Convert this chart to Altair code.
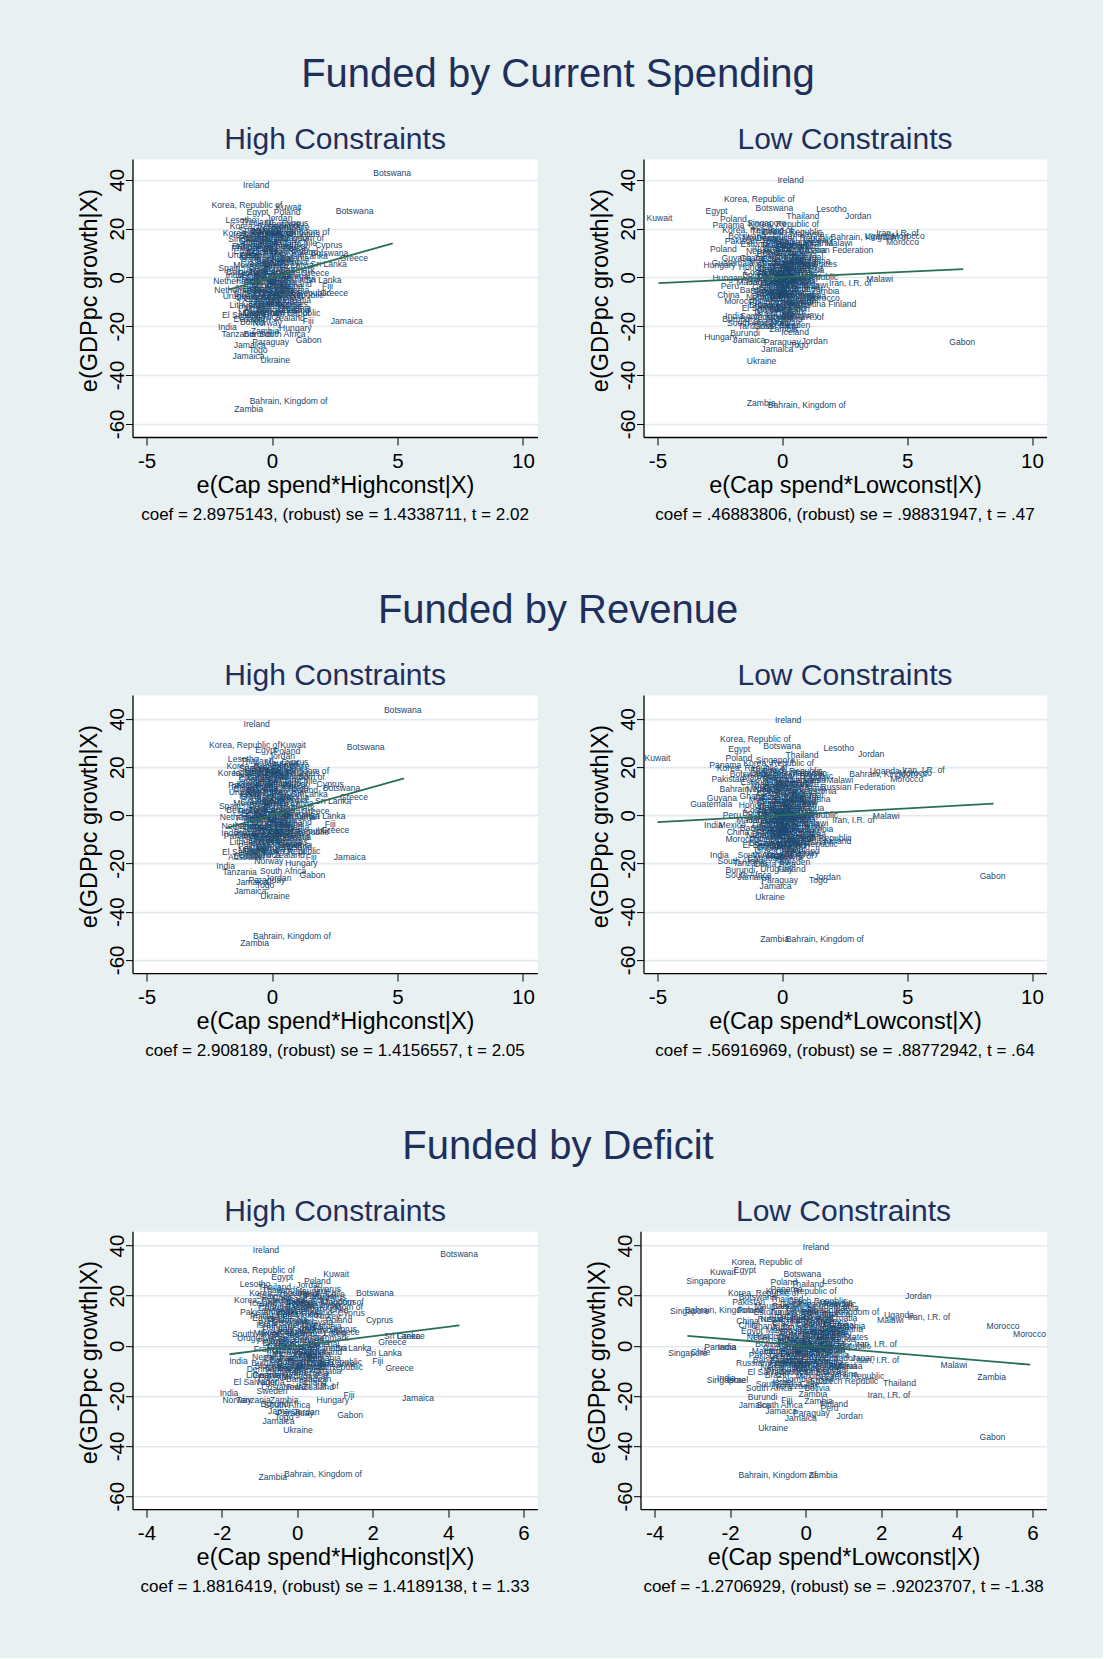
import altair as alt
import pandas as pd

FONT = "Liberation Sans"
BG = "#e8f0f2"
GRID = "#e2eaee"
NAVY = "#1a476f"
LINE_COLOR = "#2a6e5a"
TITLE_COLOR = "#1e2f5b"

ROW_TITLES = ["Funded by Current Spending", "Funded by Revenue", "Funded by Deficit"]
SUBTITLES = ["High Constraints", "Low Constraints"]
X_TITLES = ["e(Cap spend*Highconst|X)", "e(Cap spend*Lowconst|X)"]
Y_TITLE = "e(GDPpc growth|X)"
NOTES = [
    "coef = 2.8975143, (robust) se = 1.4338711, t = 2.02",
    "coef = .46883806, (robust) se = .98831947, t = .47",
    "coef = 2.908189, (robust) se = 1.4156557, t = 2.05",
    "coef = .56916969, (robust) se = .88772942, t = .64",
    "coef = 1.8816419, (robust) se = 1.4189138, t = 1.33",
    "coef = -1.2706929, (robust) se = .92023707, t = -1.38",
]
X_TICKS_AB = [-5, 0, 5, 10]
X_TICKS_C = [-4, -2, 0, 2, 4, 6]
Y_TICKS = [-60, -40, -20, 0, 20, 40]
X_DOMAIN_AB = [-5.56, 10.58]
X_DOMAIN_C = [-4.37, 6.37]
Y_DOMAINS = [[-65.4, 48.5], [-65.5, 49.9], [-65.2, 45.7]]

# fitted lines (end points)
LINE1_X, LINE1_Y = [-1.74, 4.81], [-5.04, 13.94]
LINE2_X, LINE2_Y = [-4.96, 7.25], [-2.33, 3.40]
LINE3_X, LINE3_Y = [-1.82, 5.26], [-5.29, 15.30]
LINE4_X, LINE4_Y = [-5.00, 8.46], [-2.85, 4.81]
LINE5_X, LINE5_Y = [-1.80, 4.30], [-3.39, 8.09]
LINE6_X, LINE6_Y = [-3.13, 5.94], [3.98, -7.55]

# dense cloud of labels, high-constraint panels (rows 1-2)
HIGH_CLOUD_AB = [
    ("Thailand",-0.6,22.5),("Mauritius",0.4,21.8),("Cyprus",0.9,22.3),("Greece",-0.2,20.2),
    ("Portugal",0.6,19.8),("Spain",-0.9,19.6),("Chile",1.1,20.5),("Singapore",-0.4,17.8),
    ("Ireland",0.3,18.2),("Iceland",-1.0,17.4),("Mauritius",1.2,17.6),("Portugal",-0.7,16.1),
    ("Tunisia",0.1,15.8),("Malaysia",0.8,16.3),("Japan",-0.1,14.9),("Indonesia",-0.5,14.0),
    ("Thailand",0.5,13.6),("Chile",1.4,14.2),("Korea, Republic of",0.0,12.8),("Philippines",-0.8,11.9),
    ("Costa Rica",0.2,11.5),("Turkey",1.0,12.1),("Egypt",-1.1,11.0),("Colombia",-0.3,10.2),
    ("Malaysia",0.6,9.6),("Poland",1.3,10.4),("Peru",-0.9,9.0),("Argentina",0.0,8.1),
    ("Hungary",-0.6,7.4),("Estonia",0.9,7.8),("Sri Lanka",1.5,8.8),("Uruguay",-0.2,6.0),
    ("Norway",0.5,5.7),("Mexico",-1.0,5.2),("Latvia",1.2,5.0),("Brazil",-0.5,4.1),
    ("Ecuador",0.3,3.6),("Denmark",1.0,3.2),("Sweden",-0.1,2.6),("Finland",-0.8,1.8),
    ("Austria",0.6,1.4),("Honduras",0.0,0.9),("Belgium",-1.2,2.2),("Canada",-0.4,0.1),
    ("Israel",0.4,-0.4),("Panama",1.1,-0.8),("France",-0.9,-1.1),("Germany",-0.2,-2.0),
    ("Switzerland",0.7,-2.6),("Italy",-0.7,-3.1),("Kenya",0.2,-3.6),("Nepal",-1.0,-4.4),
    ("Paraguay",0.0,-4.8),("Romania",0.8,-5.0),("Bolivia",-0.5,-5.6),("Guatemala",0.3,-6.4),
    ("Bulgaria",-0.9,-6.9),("Slovak Republic",1.1,-6.6),("Senegal",-0.2,-7.6),("Morocco",0.5,-8.3),
    ("Ghana",-0.6,-8.9),("Nicaragua",0.1,-9.6),("Croatia",1.0,-9.2),("Cameroon",-0.4,-10.4),
    ("Venezuela",0.4,-10.9),("Lithuania",-1.0,-11.2),("Madagascar",0.2,-11.9),("Pakistan",-0.7,-12.6),
    ("Bangladesh",0.3,-13.2),("Slovenia",0.9,-12.4),("Guatemala",-0.3,-14.1),("Dominican Republic",0.4,-14.8),
    ("Nigeria",-0.8,-14.6),("Costa Rica",-0.5,-16.3),("New Zealand",0.3,-16.5),("Ecuador",-0.9,-17.0),
    ("Spain",0.2,7.0),("Peru",-0.3,12.5),("Chile",0.1,16.8),("Brazil",0.3,-1.2),
    ("Turkey",-0.6,-0.3),("Iran, I.R. of",0.5,10.8),("Mexico",0.1,4.6),("Kenya",-0.2,-9.0),
    ("Italy",0.6,-4.2),("Greece",-0.4,9.3),("Malawi",0.0,19.0),("Israel",-0.6,3.0),
    ("Peru",0.4,20.7),("Chile",-0.5,19.1),("Kenya",0.2,17.2),("Ghana",-0.8,15.0),
    ("Japan",0.5,14.6),("Spain",-0.3,13.5),("Mexico",0.3,12.2),("Brazil",-0.6,10.6),
    ("Turkey",0.1,9.8),("Israel",-0.9,8.2),("Nepal",0.4,7.6),("Italy",-0.3,6.6),
    ("Colombia",0.7,6.3),("Greece",-0.7,5.6),("Latvia",0.1,5.2),("Tunisia",-0.4,2.0),
    ("Canada",0.3,2.2),("Ecuador",-0.6,1.0),("Senegal",0.9,0.6),("Uruguay",0.0,-0.6),
    ("Portugal",-0.5,-1.7),("Croatia",0.4,-1.9),("Honduras",-0.1,-3.2),("Argentina",0.5,-3.4),
    ("Estonia",-0.6,-4.8),("Romania",0.2,-5.3),("Bolivia",-0.2,-6.5),("Nigeria",0.7,-7.2),
    ("Slovenia",-0.8,-8.1),("Malaysia",0.3,-8.0),("Sweden",-0.3,-10.8),("Philippines",0.6,-11.1),
    ("Chile",-0.5,-13.5),
]

# dense cloud of labels, low-constraint panels (rows 1-2)
LOW_CLOUD_AB = [
    ("Czech Republic",0.4,18.4),("Thailand",-0.6,18.8),("Malaysia",1.0,17.6),("Chile",0.0,16.9),
    ("Dominican Republic",0.5,16.2),("Mauritius",-0.9,16.0),("Tunisia",-0.3,15.0),("Philippines",0.7,14.6),
    ("Latvia",1.3,15.4),("Estonia",-1.1,13.8),("Peru",0.1,13.6),("Greece",0.9,12.9),
    ("Argentina",-0.5,12.2),("Slovenia",0.4,11.7),("Croatia",1.2,11.3),("Nepal",-1.0,10.8),
    ("Kenya",-0.1,10.4),("Turkey",0.7,10.0),("Brazil",-0.6,9.4),("Colombia",0.2,8.9),
    ("Portugal",1.0,8.4),("Ghana",-1.2,8.0),("Ecuador",-0.2,7.6),("Spain",0.5,7.2),
    ("Bulgaria",1.3,6.8),("Mexico",-0.8,6.4),("Israel",0.0,6.0),("Romania",0.7,5.6),
    ("Senegal",-0.4,5.2),("Italy",1.1,4.8),("Honduras",-1.0,4.2),("Japan",0.3,3.9),
    ("Uruguay",-0.3,3.3),("Nicaragua",0.9,2.9),("Costa Rica",-0.7,2.4),("Canada",0.1,2.0),
    ("Venezuela",0.6,1.4),("Bolivia",-1.1,1.0),("Sweden",-0.2,0.6),("Slovak Republic",1.0,0.2),
    ("Belgium",0.3,-0.2),("Cameroon",-0.6,-0.6),("Nigeria",0.0,-1.1),("Austria",0.8,-1.6),
    ("Madagascar",-0.9,-2.0),("Denmark",-0.2,-2.5),("Finland",0.5,-3.0),("Malawi",1.3,-3.3),
    ("Germany",-0.5,-3.9),("Latvia",0.2,-4.4),("Ecuador",1.0,-4.8),("Bangladesh",-0.8,-5.3),
    ("Paraguay",-0.1,-5.8),("Croatia",0.6,-6.2),("Portugal",-0.4,-6.9),("Switzerland",0.4,-7.3),
    ("Tunisia",1.2,-7.7),("Nepal",-1.0,-8.1),("Kenya",0.0,-8.6),("Senegal",0.8,-9.1),
    ("Philippines",-0.5,-9.9),("Ghana",0.3,-10.4),("Argentina",1.0,-11.0),("Brazil",-0.9,-11.5),
    ("Mexico",0.1,-12.0),("Peru",0.6,-12.5),("Colombia",-0.3,-13.2),("Spain",0.4,-13.8),
    ("Israel",-0.7,-14.4),("Chile",0.1,-15.0),("Uruguay",0.8,-15.5),("Venezuela",-0.4,-16.4),
    ("Bolivia",0.3,-17.2),("Canada",-0.8,-17.9),("Italy",0.0,-18.6),("Sweden",0.5,-19.4),
    ("Costa Rica",-0.3,-20.1),("Japan",0.2,9.8),("Honduras",0.4,4.5),("Greece",-0.2,11.5),
    ("Turkey",0.1,-3.4),("Romania",-0.3,1.3),("Malaysia",0.6,-0.9),("Estonia",0.3,6.5),
    ("Slovenia",-0.1,14.0),("Kenya",0.7,-10.0),("Belgium",-0.6,-7.6),("Denmark",0.4,12.8),
    ("Nigeria",0.9,7.5),("Cameroon",-0.2,-11.4),
    ("Peru",0.5,11.0),("Chile",-0.4,10.0),("Kenya",0.9,9.2),("Ghana",0.1,8.4),
    ("Japan",-0.7,7.8),("Spain",0.7,6.8),("Mexico",0.2,6.2),("Brazil",-0.5,5.8),
    ("Turkey",0.8,5.2),("Israel",-0.1,4.6),("Nepal",0.5,4.0),("Italy",-0.6,3.6),
    ("Colombia",0.4,3.0),("Greece",-0.2,2.4),("Latvia",0.7,2.0),("Tunisia",-0.5,1.6),
    ("Canada",0.3,1.0),("Ecuador",0.9,0.6),("Senegal",-0.4,0.2),("Uruguay",0.5,-0.4),
    ("Portugal",-0.1,-0.9),("Croatia",0.6,-1.5),("Honduras",-0.7,-1.9),("Argentina",0.2,-2.4),
    ("Estonia",-0.3,-3.0),("Romania",0.8,-3.6),("Bolivia",-0.2,-4.2),("Nigeria",0.5,-4.9),
    ("Slovenia",-0.6,-5.4),("Malaysia",0.2,-6.0),("Sweden",-0.3,-6.6),("Philippines",0.7,-7.1),
    ("Chile",0.0,-7.6),("Madagascar",0.4,-8.4),("Austria",-0.4,-8.9),("Peru",0.9,-9.5),
    ("Japan",-0.1,-10.2),("Ghana",0.6,-11.5),("Cameroon",0.3,-12.9),("Senegal",-0.5,-12.3),
    ("Turkey",0.2,-14.4),("Brazil",0.5,-16.0),("Mexico",-0.1,-16.8),("Costa Rica",0.4,13.3),
    ("Italy",-0.3,15.8),
]

# dense cloud of labels, high-constraint deficit panel
HIGH_CLOUD_C = [
    ("Thailand",-0.5,22.4),("Mauritius",0.4,21.8),("Cyprus",0.8,22.8),("Greece",-0.1,20.3),
    ("Portugal",0.6,19.9),("Spain",-0.8,19.7),("Chile",1.0,20.5),("Singapore",-0.3,17.9),
    ("Ireland",0.3,18.3),("Iceland",-0.9,17.2),("Mauritius",1.1,17.5),("Portugal",-0.6,16.0),
    ("Tunisia",0.1,15.7),("Malaysia",0.7,16.2),("Japan",-0.1,14.8),("Indonesia",-0.4,14.0),
    ("Thailand",0.5,13.5),("Chile",1.1,14.1),("Costa Rica",0.0,12.7),("Philippines",-0.7,11.8),
    ("Turkey",0.8,12.0),("Egypt",-0.9,11.0),("Colombia",-0.2,10.2),("Malaysia",0.5,9.6),
    ("Poland",1.1,10.3),("Peru",-0.8,9.0),("Argentina",0.0,8.1),("Hungary",-0.5,7.4),
    ("Estonia",0.8,7.8),("Uruguay",-0.2,6.0),("Norway",0.4,5.7),("Mexico",-0.8,5.2),
    ("Latvia",1.0,5.0),("Brazil",-0.4,4.1),("Ecuador",0.3,3.6),("Denmark",0.9,3.2),
    ("Sweden",-0.1,2.6),("Finland",-0.7,1.8),("Austria",0.5,1.4),("Honduras",0.0,0.9),
    ("Canada",-0.4,0.1),("Israel",0.3,-0.4),("Panama",0.9,-0.8),("France",-0.8,-1.1),
    ("Germany",-0.2,-2.0),("Switzerland",0.6,-2.6),("Italy",-0.6,-3.1),("Kenya",0.2,-3.6),
    ("Nepal",-0.9,-4.4),("Paraguay",0.0,-4.8),("Romania",0.7,-5.0),("Bolivia",-0.4,-5.6),
    ("Guatemala",0.3,-6.4),("Bulgaria",-0.8,-6.9),("Slovak Republic",0.9,-6.6),("Senegal",-0.2,-7.6),
    ("Morocco",0.4,-8.3),("Ghana",-0.5,-8.9),("Nicaragua",0.1,-9.6),("Croatia",0.8,-9.9),
    ("Cameroon",-0.3,-10.4),("Venezuela",0.3,-10.9),("Lithuania",-0.9,-11.8),("Madagascar",0.2,-11.9),
    ("Pakistan",-0.6,-12.6),("Bangladesh",0.3,-13.2),("Nigeria",-0.7,-14.6),("Costa Rica",-0.4,-16.3),
    ("New Zealand",0.3,-16.5),("Spain",0.2,7.0),("Peru",-0.3,12.5),("Chile",0.1,16.8),
    ("Brazil",0.3,-1.2),("Turkey",-0.5,-0.3),("Mexico",0.1,4.6),("Kenya",-0.2,-9.0),
    ("Italy",0.5,-4.2),("Greece",-0.3,9.3),("Israel",-0.5,3.0),
    ("Peru",0.3,20.7),("Chile",-0.4,19.1),("Kenya",0.2,17.2),("Ghana",-0.7,15.0),
    ("Japan",0.4,14.6),("Spain",-0.3,13.5),("Mexico",0.3,12.2),("Brazil",-0.5,10.6),
    ("Turkey",0.1,9.8),("Israel",-0.8,8.2),("Nepal",0.4,7.6),("Italy",-0.3,6.6),
    ("Colombia",0.6,6.3),("Greece",-0.6,5.6),("Latvia",0.1,5.2),("Tunisia",-0.4,2.0),
    ("Canada",0.3,2.2),("Ecuador",-0.5,1.0),("Senegal",0.7,0.6),("Uruguay",0.0,-0.6),
    ("Portugal",-0.4,-1.7),("Croatia",0.4,-1.9),("Honduras",-0.1,-3.2),("Argentina",0.4,-3.4),
    ("Estonia",-0.5,-4.8),("Romania",0.2,-5.3),("Bolivia",-0.2,-6.5),("Nigeria",0.6,-7.2),
    ("Slovenia",-0.7,-8.1),("Malaysia",0.3,-8.0),
]

# dense cloud of labels, low-constraint deficit panel
LOW_CLOUD_C = [
    ("Czech Republic",0.3,18.0),("Thailand",-0.5,18.5),("Malaysia",0.8,17.2),("Chile",-0.1,16.5),
    ("Mauritius",-0.9,15.8),("Tunisia",-0.2,14.7),("Philippines",0.6,14.3),("Latvia",1.1,15.0),
    ("Estonia",-1.0,13.6),("Peru",0.1,13.3),("Greece",0.8,12.6),("Argentina",-0.5,12.0),
    ("Slovenia",0.3,11.5),("Croatia",1.0,11.0),("Nepal",-0.9,10.6),("Kenya",-0.1,10.2),
    ("Turkey",0.6,9.8),("Brazil",-0.6,9.2),("Colombia",0.2,8.7),("Portugal",0.9,8.2),
    ("Ghana",-1.1,7.8),("Ecuador",-0.2,7.4),("Spain",0.5,7.0),("Bulgaria",1.1,6.6),
    ("Mexico",-0.7,6.2),("Israel",0.0,5.8),("Romania",0.6,5.4),("Senegal",-0.4,5.0),
    ("Italy",1.0,4.6),("Honduras",-0.9,4.0),("Japan",0.3,3.7),("Uruguay",-0.3,3.1),
    ("Nicaragua",0.8,2.7),("Costa Rica",-0.6,2.2),("Canada",0.1,1.8),("Venezuela",0.5,1.2),
    ("Bolivia",-1.0,0.8),("Sweden",-0.2,0.4),("Slovak Republic",0.9,0.0),("Belgium",0.3,-0.4),
    ("Cameroon",-0.6,-0.8),("Nigeria",0.0,-1.3),("Austria",0.7,-1.8),("Madagascar",-0.8,-2.2),
    ("Denmark",-0.2,-2.7),("Finland",0.5,-3.2),("Germany",-0.5,-4.1),("Latvia",0.2,-4.6),
    ("Ecuador",0.9,-5.0),("Bangladesh",-0.8,-5.5),("Paraguay",-0.1,-6.0),("Croatia",0.6,-6.4),
    ("Portugal",-0.4,-7.1),("Switzerland",0.4,-7.5),("Tunisia",1.0,-7.9),("Nepal",-0.9,-8.3),
    ("Kenya",0.0,-8.8),("Senegal",0.7,-9.3),("Philippines",-0.5,-10.1),("Ghana",0.3,-10.6),
    ("Argentina",0.9,-11.2),("Brazil",-0.8,-11.7),("Mexico",0.1,-12.2),("Peru",0.5,-12.7),
    ("Colombia",-0.3,-13.4),("Spain",0.4,-14.0),("Israel",-0.6,-14.6),("Chile",0.1,-15.2),
    ("Venezuela",-0.3,-16.2),("Bolivia",0.3,-17.0),("Japan",0.2,9.6),("Honduras",0.4,4.3),
    ("Greece",-0.2,11.3),("Turkey",0.1,-3.6),("Romania",-0.3,1.1),("Malaysia",0.6,-1.1),
    ("Estonia",0.3,6.3),("Slovenia",-0.1,13.8),("Kenya",0.6,-10.2),("Belgium",-0.6,-7.8),
    ("Denmark",0.4,12.6),("Nigeria",0.8,7.3),
    ("Peru",0.5,10.8),("Chile",-0.4,9.8),("Kenya",0.8,9.0),("Ghana",0.1,8.2),
    ("Japan",-0.6,7.6),("Spain",0.7,6.6),("Mexico",0.2,6.0),("Brazil",-0.4,5.6),
    ("Turkey",0.7,5.0),("Israel",-0.1,4.4),("Nepal",0.5,3.8),("Italy",-0.5,3.4),
    ("Colombia",0.4,2.8),("Greece",-0.2,2.2),("Latvia",0.6,1.8),("Tunisia",-0.4,1.4),
    ("Canada",0.3,0.8),("Ecuador",0.8,0.4),("Senegal",-0.3,0.0),("Uruguay",0.5,-0.6),
    ("Portugal",-0.1,-1.1),("Croatia",0.6,-1.7),("Honduras",-0.6,-2.1),("Argentina",0.2,-2.6),
    ("Estonia",-0.3,-3.2),("Romania",0.7,-3.8),("Bolivia",-0.2,-4.4),("Nigeria",0.5,-5.1),
    ("Slovenia",-0.5,-5.6),("Malaysia",0.2,-6.2),("Sweden",-0.3,-6.8),("Philippines",0.6,-7.3),
    ("Madagascar",0.3,-8.6),("Austria",-0.3,-9.1),("Japan",-0.1,-10.4),
]

# readable labels, panel by panel
P1_LABELS = [
    ("Botswana",4.79,42.7),("Ireland",-0.63,37.8),("Korea, Republic of",-1.0,29.6),("Kuwait",0.66,28.9),
    ("Egypt",-0.58,26.6),("Poland",0.6,26.6),("Botswana",3.29,27.1),("Lesotho",-1.24,23.5),
    ("Jordan",0.29,24.3),("Korea, Republic of",-0.28,21.1),("Korea, Republic of",-0.55,18.1),
    ("Bahrain, Kingdom of",0.74,18.7),("Bahrain, Kingdom of",0.52,16.0),("Cyprus",2.26,13.1),
    ("Botswana",2.29,10.0),("Greece",3.26,7.9),("Sri Lanka",2.26,5.5),("Greece",1.72,1.9),
    ("Sri Lanka",2.05,-1.1),("Fiji",2.21,-3.7),("Greece",2.47,-6.4),("Jamaica",2.98,-17.9),
    ("Fiji",1.44,-17.9),("India",-1.78,-20.3),("Tanzania",-1.33,-23.2),("Hungary",0.93,-20.7),
    ("South Africa",0.41,-23.2),("Gabon",1.46,-25.6),("Jamaica",-0.89,-27.7),("Paraguay",-0.05,-26.3),
    ("Togo",-0.55,-29.7),("Jamaica",-0.94,-32.2),("Ukraine",0.13,-33.7),("Bahrain, Kingdom of",0.66,-50.6),
    ("Zambia",-0.93,-53.9),("El Salvador",-1.12,-15.3),("Netherlands",-1.42,-1.4),("Netherlands",-1.38,-5.2),
    ("Spain",-1.7,3.8),("Uruguay",-1.13,9.3),("Pakistan",-0.94,13.0),("Singapore",-0.96,15.7),
    ("India",-1.48,1.1),("Uruguay",-1.32,-7.5),("Bolivia",-0.77,-18.4),("Norway",-0.19,-18.7),
    ("Burundi",-0.55,-23.3),("Zambia",-0.28,-22.0),("Finland",0.94,-13.2),("Iran, I.R. of",0.66,-14.7),
    ("Czech Republic",0.85,-7.2),
]
P2_LABELS = [
    ("Ireland",0.33,39.8),("Korea, Republic of",-0.92,32.1),("Botswana",-0.32,28.6),("Egypt",-2.64,27.1),
    ("Lesotho",1.97,28.0),("Thailand",0.82,25.1),("Jordan",3.04,25.1),("Kuwait",-4.92,24.3),
    ("Poland",-1.96,23.9),("Panama",-2.16,21.4),("Singapore",-0.63,22.2),("Korea, Republic of",0.05,21.8),
    ("Korea, Republic of",-0.99,19.4),("Botswana",-1.41,16.8),("Pakistan",-1.65,15.0),
    ("Bahrain, Kingdom of",3.49,16.5),("Iran, I.R. of",4.61,18.0),("Uganda",3.9,16.8),("Morocco",5.04,16.8),
    ("Morocco",4.81,14.5),("Malawi",2.27,14.0),("Russian Federation",2.15,11.2),("Thailand",-0.21,13.4),
    ("Lithuania",1.33,14.0),("Poland",-2.36,11.6),("Hungary",-2.51,5.2),("Guatemala",-1.99,5.9),
    ("Guyana",-1.83,7.8),("Hungary",-2.15,-0.1),("Peru",-2.1,-3.4),("China",-2.16,-7.1),
    ("Morocco",-1.67,-9.5),("El Salvador",-0.75,-12.6),("India",-1.92,-15.7),("South Africa",-0.76,-16.0),
    ("Burundi",-1.81,-17.0),("South Africa",-1.29,-18.8),("Tanzania",-1.09,-20.0),("Norway",0.12,-18.6),
    ("Iran, I.R. of",0.81,-16.4),("Finland",2.4,-10.9),("Zambia",0.05,-21.1),("Burundi",-1.49,-22.8),
    ("Iceland",0.51,-22.2),("Hungary",-2.48,-24.6),("Jamaica",-1.32,-25.6),("Jordan",1.29,-26.0),
    ("Togo",0.68,-27.7),("Paraguay",0.0,-26.3),("Jamaica",-0.2,-29.3),("Ukraine",-0.83,-34.2),
    ("Zambia",-0.85,-51.4),("Bahrain, Kingdom of",0.98,-52.3),("Gabon",7.2,-26.5),("Malawi",3.9,-0.7),
    ("Iran, I.R. of",2.72,-2.3),("United States",1.16,5.5),("Iran, I.R. of",0.77,3.4),("Zambia",1.71,-5.7),
    ("Morocco",1.64,-8.6),
]
P3_LABELS = [
    ("Botswana",5.21,43.7),("Ireland",-0.61,37.9),("Korea, Republic of",-1.1,29.2),("Kuwait",0.84,29.0),
    ("Egypt",-0.23,27.3),("Poland",0.59,26.9),("Botswana",3.73,28.4),("Jordan",0.39,24.7),
    ("Lesotho",-1.15,23.4),("Korea, Republic of",-0.41,20.6),("Bahrain, Kingdom of",0.72,18.6),
    ("Korea, Republic of",-0.75,17.7),("Bahrain, Kingdom of",0.55,15.9),("Cyprus",2.32,13.1),
    ("Botswana",2.77,11.3),("Greece",3.26,7.7),("Sri Lanka",2.44,6.1),("Greece",1.73,1.9),
    ("Sri Lanka",2.21,-0.4),("Sri Lanka",1.17,-0.4),("Fiji",2.32,-3.4),("Greece",2.52,-6.3),
    ("Jamaica",3.1,-17.5),("Fiji",1.56,-17.5),("Hungary",1.17,-20.0),("India",-1.85,-21.0),
    ("Tanzania",-1.29,-23.4),("South Africa",0.44,-23.0),("Gabon",1.61,-24.8),("Jordan",0.25,-26.2),
    ("Jamaica",-0.79,-27.6),("Paraguay",-0.2,-26.9),("Togo",-0.28,-29.0),("Jamaica",-0.87,-31.4),
    ("Ukraine",0.12,-33.7),("Bahrain, Kingdom of",0.79,-50.1),("Zambia",-0.69,-53.1),
    ("El Salvador",-1.12,-15.4),("Australia",-1.09,-17.2),("Norway",-0.13,-19.0),("Netherlands",-1.16,-0.8),
    ("Netherlands",-1.09,-4.6),("Indonesia",-1.28,-7.4),("Spain",-1.68,3.7),("Uruguay",-1.08,9.7),
    ("Pakistan",-1.09,12.7),("Panama",-1.29,-8.7),("Iceland",1.04,-13.0),("Iran, I.R. of",0.49,-15.4),
    ("Czech Republic",1.05,-6.9),("Colombia",0.77,-9.2),
]
P4_LABELS = [
    ("Ireland",0.23,39.6),("Korea, Republic of",-1.08,31.7),("Botswana",-0.01,28.8),("Egypt",-1.73,27.4),
    ("Lesotho",2.26,28.0),("Thailand",0.79,25.1),("Jordan",3.56,25.5),("Kuwait",-5.0,23.9),
    ("Poland",-1.74,23.9),("Singapore",-0.28,22.8),("Panama",-2.29,21.0),("Korea, Republic of",-0.15,21.8),
    ("Korea, Republic of",-1.21,19.6),("Dominican Republic",0.24,17.7),("Botswana",-1.35,17.0),
    ("Pakistan",-2.18,14.9),("Thailand",-0.65,13.2),("Lithuania",1.04,14.5),("Malawi",2.3,14.5),
    ("Bahrain, Kingdom of",4.24,17.2),("Uganda",4.1,18.3),("Iran, I.R. of",5.65,19.0),("Morocco",5.33,17.5),
    ("Morocco",4.98,15.2),("Russian Federation",3.02,11.9),("Estonia",1.6,9.9),("Guatemala",-2.85,4.8),
    ("Guyana",-2.42,7.2),("Bahrain, Kingdom of",-0.96,11.0),("Peru",-2.02,0.3),("India",-2.76,-4.1),
    ("Mexico",-2.01,-4.1),("China",-1.78,-6.9),("Morocco",-1.62,-9.7),("El Salvador",-0.72,-12.4),
    ("India",-2.52,-16.6),("South Africa",-0.87,-16.3),("South Africa",-1.67,-19.0),("Tanzania",-1.29,-19.6),
    ("Burundi",-1.68,-22.9),("Uruguay",-0.23,-22.3),("Finland",0.37,-22.1),("South Africa",-1.36,-24.8),
    ("Jamaica",-1.15,-25.8),("Paraguay",-0.11,-26.8),("Togo",1.44,-26.9),("Jordan",1.81,-25.8),
    ("Jamaica",-0.27,-29.5),("Ukraine",-0.49,-34.1),("Zambia",-0.31,-51.4),("Bahrain, Kingdom of",1.7,-51.4),
    ("Gabon",8.42,-25.0),("Malawi",4.16,-0.1),("Iran, I.R. of",2.85,-1.8),("Zambia",1.47,-5.5),
    ("Czech Republic",1.57,-9.4),("Thailand",2.1,-10.8),("Czech Republic",1.01,-12.1),("Iceland",0.95,-14.8),
    ("Iran, I.R. of",0.39,-16.8),
]
P5_LABELS = [
    ("Ireland",-0.83,38.2),("Botswana",4.29,36.6),("Korea, Republic of",-1.0,30.2),("Kuwait",1.03,28.6),
    ("Egypt",-0.4,27.3),("Poland",0.53,25.9),("Lesotho",-1.12,24.7),("Thailand",-0.6,23.6),
    ("Jordan",0.32,24.3),("Korea, Republic of",-0.34,21.1),("Mauritius",0.83,19.6),("Botswana",2.06,21.1),
    ("Korea, Republic of",-0.74,18.3),("Bahrain, Kingdom of",0.73,17.4),("Bahrain, Kingdom of",0.71,15.6),
    ("Cyprus",1.43,13.1),("Cyprus",2.18,10.2),("Pakistan",-1.08,13.4),("Cyprus",1.22,6.8),
    ("Greece",1.28,5.3),("Sri Lanka",2.78,4.0),("Greece",3.01,4.0),("Greece",2.52,1.6),
    ("Sri Lanka",1.49,-0.7),("Sri Lanka",2.29,-2.8),("Fiji",2.13,-6.1),("Greece",2.71,-8.8),
    ("Dominican Republic",0.73,-8.5),("Sri Lanka",1.05,-7.4),("Iran, I.R. of",0.53,-15.9),
    ("Fiji",1.37,-19.5),("Hungary",0.94,-21.5),("Jamaica",3.2,-20.7),("India",-1.81,-18.7),
    ("Norway",-1.6,-21.5),("Tanzania",-1.16,-21.5),("Zambia",-0.35,-21.8),("South Africa",-0.27,-23.5),
    ("Burundi",-0.58,-23.1),("Jordan",0.24,-26.3),("Gabon",1.4,-27.5),("Jamaica",-0.35,-26.0),
    ("Paraguay",-0.05,-26.8),("Togo",-0.35,-28.6),("Jamaica",-0.5,-30.2),("Ukraine",0.02,-33.8),
    ("Zambia",-0.65,-52.5),("Bahrain, Kingdom of",0.68,-51.3),("El Salvador",-1.11,-14.5),
    ("Sweden",-0.67,-18.0),("Finland",0.41,-14.5),("South Africa",-1.12,4.8),("Uruguay",-1.17,3.1),
    ("India",-1.56,-6.1),("Denmark",-0.88,-9.2),("Germany",-0.72,-11.5),
]
P6_LABELS = [
    ("Ireland",0.27,39.4),("Korea, Republic of",-1.03,33.3),("Kuwait",-2.19,29.6),("Egypt",-1.61,30.2),
    ("Singapore",-2.64,25.9),("Botswana",-0.09,28.6),("Poland",-0.58,25.6),("Thailand",0.05,24.7),
    ("Lesotho",0.85,25.9),("Korea, Republic of",-0.12,21.9),("Jordan",2.98,19.9),
    ("Korea, Republic of",-1.12,21.1),("Panama",-0.51,22.5),("Botswana",-1.27,19.4),("Pakistan",-1.51,17.5),
    ("Dominican Republic",0.33,16.7),("Bahrain, Kingdom of",-2.17,14.1),("Singapore",-3.07,13.8),
    ("Poland",-1.46,14.1),("Bahrain, Kingdom of",0.14,15.9),("Bahrain, Kingdom of",0.91,13.5),
    ("Tunisia",-0.59,13.5),("Uganda",2.47,12.1),("Malawi",2.24,10.3),("Iran, I.R. of",3.26,11.4),
    ("Morocco",5.22,8.0),("Morocco",5.92,4.8),("Estonia",1.2,8.0),("Lithuania",0.59,5.4),
    ("United States",0.97,3.4),("Iran, I.R. of",1.85,0.8),("Panama",-2.26,-0.5),("India",-2.08,-0.5),
    ("Singapore",-3.12,-2.8),("Chile",-2.78,-2.3),("Japan",1.52,-4.8),("Iran, I.R. of",1.91,-5.8),
    ("Australia",1.06,-8.0),("Malawi",3.92,-7.6),("Zambia",4.92,-12.6),("Thailand",2.48,-15.0),
    ("Czech Republic",1.28,-11.9),("Czech Republic",1.12,-14.1),("Iran, I.R. of",2.2,-19.5),
    ("Finland",0.75,-23.3),("Peru",0.63,-24.7),("Jordan",1.16,-28.2),("Paraguay",0.15,-26.7),
    ("Jamaica",-0.13,-29.0),("Jamaica",-0.65,-25.9),("Jamaica",-1.35,-23.5),("South Africa",-0.69,-23.5),
    ("Burundi",-1.14,-20.6),("Fiji",-0.5,-21.5),("Zambia",0.34,-22.0),("Zambia",0.19,-19.4),
    ("Ukraine",-0.86,-33.0),("Gabon",4.94,-36.2),("Bahrain, Kingdom of",-0.75,-51.7),("Zambia",0.46,-51.7),
    ("India",-2.1,-12.7),("Singapore",-2.1,-13.8),("Israel",-1.8,-13.8),("South Africa",-0.71,-15.1),
    ("South Africa",-0.97,-17.0),("El Salvador",-0.96,-10.6),("Russian Federation",-0.86,-6.8),
    ("Pakistan",-1.07,-3.7),("China",-1.54,9.8),("Chile",-1.52,8.1),("Egypt",-1.42,5.8),
    ("Nepal",-1.26,3.4),("Russian Federation",-0.29,10.7),
]

PLOT_H = 278


def panel(labels, cloud, lx, ly, xdom, xticks, ydom, xtitle, note, subtitle, width):
    df = pd.DataFrame(cloud + labels, columns=["country", "x", "y"])
    ldf = pd.DataFrame({"x": lx, "y": ly})
    xs = alt.Scale(domain=xdom, nice=False, zero=False)
    ys = alt.Scale(domain=ydom, nice=False, zero=False)
    xaxis = alt.Axis(
        values=xticks, title=xtitle, grid=False, tickSize=8, tickWidth=1, tickColor="black",
        domainColor="black", domainWidth=1.3, labelFontSize=20.5, labelFont=FONT, labelColor="black",
        labelPadding=22, labelBaseline="alphabetic", labelFlush=False, labelOverlap=False,
        labelExpr="'' + datum.value", titleFontSize=23.5, titleFont=FONT, titleColor="black",
        titleFontWeight="normal", titleBaseline="alphabetic", titleY=55,
    )
    yaxis = alt.Axis(
        values=Y_TICKS, title=Y_TITLE, grid=True, gridColor=GRID, gridWidth=1.6, tickSize=7,
        tickWidth=1, tickColor="black", domainColor="black", domainWidth=1.3, labelFontSize=20.5,
        labelFont=FONT, labelColor="black", labelAngle=270, labelAlign="center",
        labelBaseline="alphabetic", labelPadding=2, labelFlush=False, labelOverlap=False,
        labelExpr="'' + datum.value", titleFontSize=23.5, titleFont=FONT, titleColor="black",
        titleFontWeight="normal", titleAngle=270, titleAlign="center", titleBaseline="alphabetic",
        titleX=-36, titleY=PLOT_H / 2 - 8,
    )
    texts = alt.Chart(df).mark_text(
        font=FONT, fontSize=8.6, color=NAVY, align="center", baseline="middle"
    ).encode(
        x=alt.X("x:Q", scale=xs, axis=xaxis),
        y=alt.Y("y:Q", scale=ys, axis=yaxis),
        text="country:N",
    )
    line = alt.Chart(ldf).mark_line(color=LINE_COLOR, strokeWidth=1.8).encode(
        x=alt.X("x:Q", scale=xs, axis=xaxis),
        y=alt.Y("y:Q", scale=ys, axis=yaxis),
    )
    note_layer = alt.Chart(pd.DataFrame({"t": [note]})).mark_text(
        font=FONT, fontSize=17, color="black", align="center", baseline="alphabetic"
    ).encode(x=alt.value(width / 2), y=alt.value(PLOT_H + 83), text="t:N")
    return alt.layer(texts, line, note_layer).properties(
        width=width, height=PLOT_H,
        title=alt.TitleParams(
            subtitle, fontSize=30, font=FONT, color=TITLE_COLOR, fontWeight="normal",
            anchor="middle", frame="group", baseline="alphabetic", offset=-19.5,
        ),
    )


def row(title, left, right, spacing):
    return alt.hconcat(
        left, right, spacing=spacing, bounds="flush",
        title=alt.TitleParams(
            title, fontSize=40, font=FONT, color=TITLE_COLOR, fontWeight="normal",
            anchor="middle", frame="bounds", baseline="alphabetic", offset=-3, dx=-4,
        ),
    )


p1 = panel(P1_LABELS, HIGH_CLOUD_AB, LINE1_X, LINE1_Y, X_DOMAIN_AB, X_TICKS_AB, Y_DOMAINS[0],
           X_TITLES[0], NOTES[0], SUBTITLES[0], 405)
p2 = panel(P2_LABELS, LOW_CLOUD_AB, LINE2_X, LINE2_Y, X_DOMAIN_AB, X_TICKS_AB, Y_DOMAINS[0],
           X_TITLES[1], NOTES[1], SUBTITLES[1], 403)
p3 = panel(P3_LABELS, HIGH_CLOUD_AB, LINE3_X, LINE3_Y, X_DOMAIN_AB, X_TICKS_AB, Y_DOMAINS[1],
           X_TITLES[0], NOTES[2], SUBTITLES[0], 405)
p4 = panel(P4_LABELS, LOW_CLOUD_AB, LINE4_X, LINE4_Y, X_DOMAIN_AB, X_TICKS_AB, Y_DOMAINS[1],
           X_TITLES[1], NOTES[3], SUBTITLES[1], 403)
p5 = panel(P5_LABELS, HIGH_CLOUD_C, LINE5_X, LINE5_Y, X_DOMAIN_C, X_TICKS_C, Y_DOMAINS[2],
           X_TITLES[0], NOTES[4], SUBTITLES[0], 405)
p6 = panel(P6_LABELS, LOW_CLOUD_C, LINE6_X, LINE6_Y, X_DOMAIN_C, X_TICKS_C, Y_DOMAINS[2],
           X_TITLES[1], NOTES[5], SUBTITLES[1], 406)

chart = alt.vconcat(
    row(ROW_TITLES[0], p1, p2, 106),
    row(ROW_TITLES[1], p3, p4, 106),
    row(ROW_TITLES[2], p5, p6, 103),
    spacing=67.1,
).properties(
    background=BG,
    padding={"left": 76.5, "top": 55, "right": 55, "bottom": 62},
).configure_view(fill="white", stroke="transparent")

chart.save("out.html", embed_options={"renderer": "svg", "actions": False})
